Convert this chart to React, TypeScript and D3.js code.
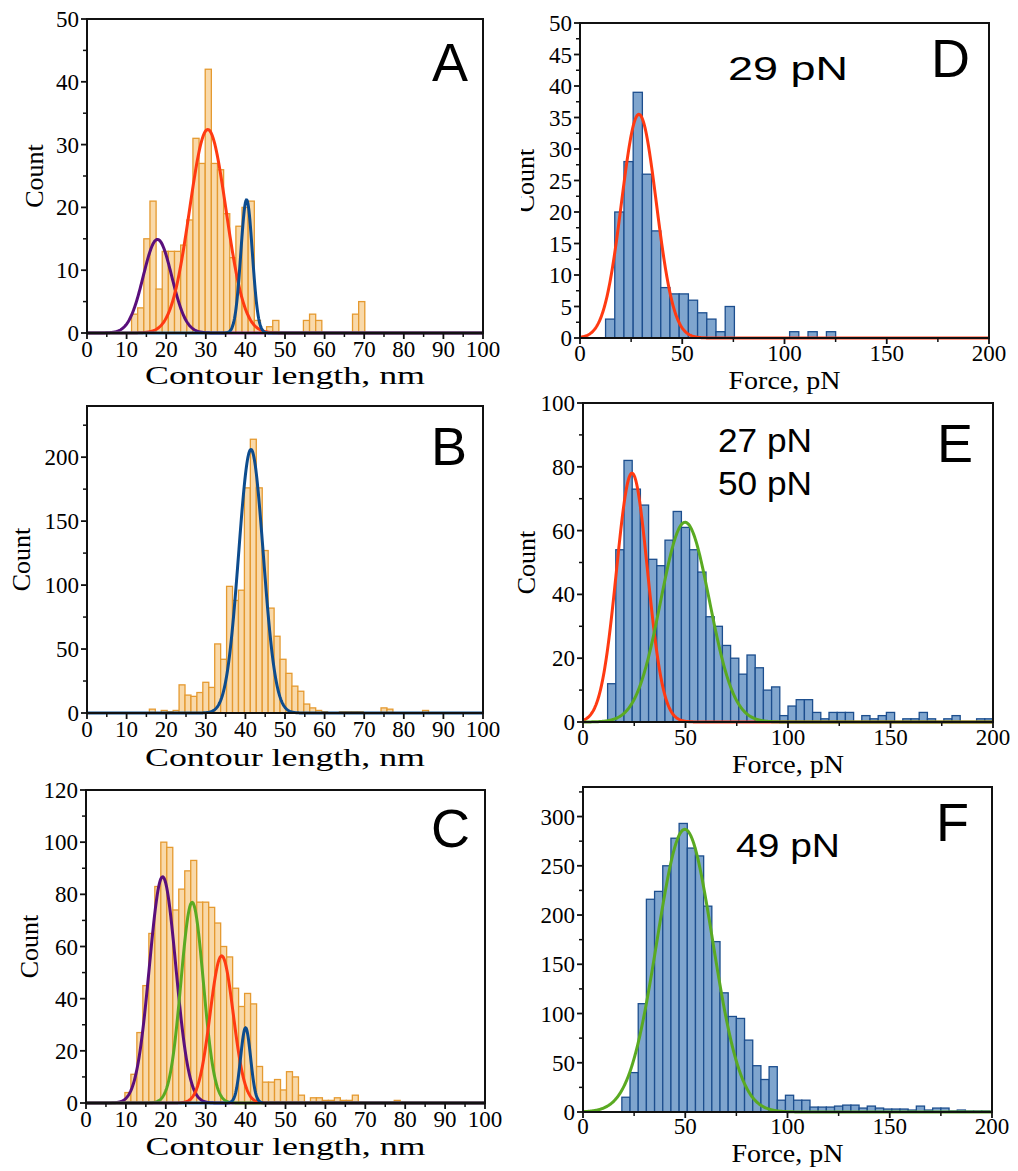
import React from "react";
import * as d3 from "d3";

// ---------------- DATA ----------------
// Panel A (contour length, nm)
const aBinStart = 11.25;
const aBinWidth = 1.55;
const aCounts = [3, 4, 15, 21, 7, 13, 13, 13, 14, 18, 31, 27, 42, 27, 26, 19, 12, 17, 20, 21, 2, 0, 1, 2, 0, 0, 0, 0, 2, 3, 2, 0, 0, 0, 0, 0, 3, 5];
const aFits = [
  { amp: 14.9, mu: 17.8, sigma: 3.6 },
  { amp: 32.4, mu: 30.5, sigma: 4.6 },
  { amp: 21.2, mu: 40.3, sigma: 1.45 },
];

// Panel B (contour length, nm)
const bBinStart = 15.75;
const bBinWidth = 1.5;
const bCounts = [3, 0, 2, 1, 2, 22, 14, 13, 16, 24, 20, 54, 42, 99, 88, 96, 176, 214, 176, 127, 82, 60, 42, 31, 21, 17, 7, 4, 2, 1, 0, 0, 1, 1, 1, 1, 0, 0, 0, 4, 3, 0, 0, 0, 0, 0, 2];
const bFits = [{ amp: 206, mu: 41.4, sigma: 3.1 }];

// Panel C (contour length, nm)
const cBinStart = 9.75;
const cBinWidth = 1.5;
const cCounts = [4, 11, 27, 45, 65, 83, 100, 98, 74, 82, 89, 93, 77, 77, 75, 69, 60, 56, 44, 37, 42, 38, 14, 8, 8, 9, 5, 12, 10, 3, 0, 2, 2, 1, 1, 2, 1, 1, 3, 0, 0, 0, 0, 0, 0, 1];
const cFits = [
  { amp: 86.7, mu: 19.2, sigma: 3.3 },
  { amp: 76.9, mu: 26.6, sigma: 2.8 },
  { amp: 56.4, mu: 34.0, sigma: 2.9 },
  { amp: 28.8, mu: 40.0, sigma: 1.25 },
];

// Panel D (force, pN)
const dBinStart = 12.5;
const dBinWidth = 4.5;
const dCounts = [3, 20, 28, 39, 26, 17, 8, 7, 7, 6, 4, 3, 1, 5, 0, 0, 0, 0, 0, 0, 1, 0, 1, 0, 1];
const dFits = [{ amp: 35.5, mu: 28.8, sigma: 8.5 }];

// Panel E (force, pN)
const eBinStart = 12;
const eBinWidth = 4;
const eCounts = [12, 54, 82, 73, 68, 51, 49, 57, 66, 61, 54, 47, 33, 30, 24, 20, 15, 21, 17, 10, 11, 2, 5, 7, 7, 3, 1, 3, 3, 3, 0, 2, 1, 2, 3, 0, 1, 1, 3, 1, 0, 1, 2, 0, 0, 1, 1];
const eFits = [
  { amp: 78, mu: 23.9, sigma: 7.6 },
  { amp: 62.6, mu: 49.8, sigma: 11.9 },
];

// Panel F (force, pN)
const fBinStart = 19;
const fBinWidth = 4;
const fCounts = [15, 40, 110, 216, 224, 250, 278, 293, 268, 260, 209, 173, 121, 97, 95, 73, 47, 33, 46, 12, 17, 12, 12, 5, 5, 5, 6, 7, 7, 4, 6, 4, 3, 3, 3, 2, 6, 2, 4, 4, 1, 2, 1, 1, 1];
const fFits = [{ amp: 287, mu: 49.8, sigma: 13.6 }];

// Tick definitions
const nmTicksMajor = [0, 10, 20, 30, 40, 50, 60, 70, 80, 90, 100];
const nmTicksMinor = [5, 15, 25, 35, 45, 55, 65, 75, 85, 95];
const pnTicksMajor = [0, 50, 100, 150, 200];
const pnTicksMinor = [25, 75, 125, 175];

// ---------------- STYLE ----------------
const ORANGE_FILL = "#F9D9A9";
const ORANGE_STROKE = "#E59A30";
const BLUE_FILL = "#7FA5CE";
const BLUE_STROKE = "#1C4E8E";
const PURPLE = "#5A0F7C";
const RED = "#FF3A12";
const DBLUE = "#0D4C8E";
const GREEN = "#5AAA22";
const SERIF = "'Liberation Serif', 'Times New Roman', serif";
const SANS = "'Liberation Sans', Arial, sans-serif";

type Fit = { amp: number; mu: number; sigma: number };

type PanelProps = {
  left: number; right: number; top: number; bottom: number;
  xMax: number; yMax: number;
  xMajor: number[]; xMinor: number[];
  yMajor: number[]; yMinor: number[];
  binStart: number; binWidth: number; counts: number[];
  fill: string; stroke: string;
  fits: Fit[]; fitColors: string[];
  xTitle: string; xTitleLen: number; xTitleSize: number; xLabelDy: number; xTitleDy: number;
  yTitleX?: number;
  letter: string; letterX: number; letterY: number;
  notes?: { text: string; x: number; y: number; len: number }[];
};

function gauss(f: Fit, v: number) {
  return f.amp * Math.exp(-((v - f.mu) ** 2) / (2 * f.sigma * f.sigma));
}

function Panel(p: PanelProps) {
  const x = d3.scaleLinear().domain([0, p.xMax]).range([p.left, p.right]);
  const y = d3.scaleLinear().domain([0, p.yMax]).range([p.bottom, p.top]);
  const samples = d3.range(0, p.xMax + 0.0001, p.xMax / 800);
  return (
    <g>
      {p.counts.map((c, i) =>
        c > 0 ? (
          <rect
            key={i}
            x={x(p.binStart + i * p.binWidth)}
            y={y(c)}
            width={x(p.binStart + (i + 1) * p.binWidth) - x(p.binStart + i * p.binWidth)}
            height={y(0) - y(c)}
            fill={p.fill}
            stroke={p.stroke}
            strokeWidth={1.3}
          />
        ) : null
      )}
      {p.fits.map((f, i) => {
        const line = d3.line<number>().x((d) => x(d)).y((d) => y(gauss(f, d)));
        return <path key={i} d={line(samples) as string} fill="none" stroke={p.fitColors[i]} strokeWidth={3} />;
      })}
      <rect x={p.left} y={p.top} width={p.right - p.left} height={p.bottom - p.top} fill="none" stroke="#111" strokeWidth={2} />
      {p.yMajor.map((v) => (
        <g key={"ym" + v}>
          <line x1={p.left - 6} x2={p.left} y1={y(v)} y2={y(v)} stroke="#111" strokeWidth={1.8} />
          <text x={p.left - 8} y={y(v) + 8} textAnchor="end" fontFamily={SERIF} fontSize={23}>{v}</text>
        </g>
      ))}
      {p.yMinor.map((v) => (
        <line key={"yn" + v} x1={p.left - 4} x2={p.left} y1={y(v)} y2={y(v)} stroke="#111" strokeWidth={1.5} />
      ))}
      {p.xMajor.map((v) => (
        <g key={"xm" + v}>
          <line x1={x(v)} x2={x(v)} y1={p.bottom} y2={p.bottom + 6} stroke="#111" strokeWidth={1.8} />
          <text x={x(v)} y={p.bottom + p.xLabelDy} textAnchor="middle" fontFamily={SERIF} fontSize={23}>{v}</text>
        </g>
      ))}
      {p.xMinor.map((v) => (
        <line key={"xn" + v} x1={x(v)} x2={x(v)} y1={p.bottom} y2={p.bottom + 4} stroke="#111" strokeWidth={1.5} />
      ))}
      <text
        x={(p.left + p.right) / 2}
        y={p.bottom + p.xTitleDy}
        textAnchor="middle"
        fontFamily={SERIF}
        fontSize={p.xTitleSize}
        textLength={p.xTitleLen}
        lengthAdjust="spacingAndGlyphs"
      >
        {p.xTitle}
      </text>
      {p.yTitleX !== undefined && (
        <text
          transform={`translate(${p.yTitleX},${(p.top + p.bottom) / 2}) rotate(-90)`}
          textAnchor="middle"
          fontFamily={SERIF}
          fontSize={26}
        >
          Count
        </text>
      )}
      <text x={p.letterX} y={p.letterY} fontFamily={SANS} fontSize={54} textAnchor="start">{p.letter}</text>
      {(p.notes || []).map((n, i) => (
        <text key={i} x={n.x} y={n.y} fontFamily={SANS} fontSize={33} textLength={n.len} lengthAdjust="spacingAndGlyphs">{n.text}</text>
      ))}
    </g>
  );
}

export default function App() {
  return (
    <svg width={1018} height={1171} style={{ display: "block", position: "absolute", left: 0, top: 0, background: "#fff" }}>
      <rect width={1018} height={1171} fill="#fff" />
      <Panel
        left={87} right={483} top={19} bottom={333} xMax={100} yMax={50}
        xMajor={nmTicksMajor} xMinor={nmTicksMinor}
        yMajor={[0, 10, 20, 30, 40, 50]} yMinor={[5, 15, 25, 35, 45]}
        binStart={aBinStart} binWidth={aBinWidth} counts={aCounts}
        fill={ORANGE_FILL} stroke={ORANGE_STROKE}
        fits={aFits} fitColors={[PURPLE, RED, DBLUE]}
        xTitle="Contour length, nm" xTitleLen={280} xTitleSize={26} xLabelDy={24} xTitleDy={51}
        yTitleX={43}
        letter="A" letterX={432} letterY={81}
      />
      <Panel
        left={87} right={483} top={406} bottom={713} xMax={100} yMax={240}
        xMajor={nmTicksMajor} xMinor={nmTicksMinor}
        yMajor={[0, 50, 100, 150, 200]} yMinor={[25, 75, 125, 175, 225]}
        binStart={bBinStart} binWidth={bBinWidth} counts={bCounts}
        fill={ORANGE_FILL} stroke={ORANGE_STROKE}
        fits={bFits} fitColors={[DBLUE]}
        xTitle="Contour length, nm" xTitleLen={280} xTitleSize={26} xLabelDy={24} xTitleDy={53}
        yTitleX={30}
        letter="B" letterX={431} letterY={465}
      />
      <Panel
        left={86} right={485} top={790} bottom={1103} xMax={100} yMax={120}
        xMajor={nmTicksMajor} xMinor={nmTicksMinor}
        yMajor={[0, 20, 40, 60, 80, 100, 120]} yMinor={[10, 30, 50, 70, 90, 110]}
        binStart={cBinStart} binWidth={cBinWidth} counts={cCounts}
        fill={ORANGE_FILL} stroke={ORANGE_STROKE}
        fits={cFits} fitColors={[PURPLE, GREEN, RED, DBLUE]}
        xTitle="Contour length, nm" xTitleLen={280} xTitleSize={26} xLabelDy={24} xTitleDy={52}
        yTitleX={38}
        letter="C" letterX={431} letterY={847}
      />
      <Panel
        left={580} right={989} top={23} bottom={338} xMax={200} yMax={50}
        xMajor={pnTicksMajor} xMinor={pnTicksMinor}
        yMajor={[0, 5, 10, 15, 20, 25, 30, 35, 40, 45, 50]} yMinor={[2.5, 7.5, 12.5, 17.5, 22.5, 27.5, 32.5, 37.5, 42.5, 47.5]}
        binStart={dBinStart} binWidth={dBinWidth} counts={dCounts}
        fill={BLUE_FILL} stroke={BLUE_STROKE}
        fits={dFits} fitColors={[RED]}
        xTitle="Force, pN" xTitleLen={112} xTitleSize={25} xLabelDy={23} xTitleDy={51}
        yTitleX={534}
        letter="D" letterX={931} letterY={77}
        notes={[{ text: "29 pN", x: 728, y: 80, len: 120 }]}
      />
      <rect x={495} y={120} width={26} height={90} fill="#fff" />
      <Panel
        left={583} right={993} top={403} bottom={722} xMax={200} yMax={100}
        xMajor={pnTicksMajor} xMinor={pnTicksMinor}
        yMajor={[0, 20, 40, 60, 80, 100]} yMinor={[10, 30, 50, 70, 90]}
        binStart={eBinStart} binWidth={eBinWidth} counts={eCounts}
        fill={BLUE_FILL} stroke={BLUE_STROKE}
        fits={eFits} fitColors={[RED, GREEN]}
        xTitle="Force, pN" xTitleLen={112} xTitleSize={25} xLabelDy={23} xTitleDy={51}
        yTitleX={535}
        letter="E" letterX={937} letterY={462}
        notes={[
          { text: "27 pN", x: 718, y: 452, len: 94 },
          { text: "50 pN", x: 718, y: 495, len: 94 },
        ]}
      />
      <Panel
        left={583} right={992} top={787} bottom={1112} xMax={200} yMax={330}
        xMajor={pnTicksMajor} xMinor={pnTicksMinor}
        yMajor={[0, 50, 100, 150, 200, 250, 300]} yMinor={[25, 75, 125, 175, 225, 275, 325]}
        binStart={fBinStart} binWidth={fBinWidth} counts={fCounts}
        fill={BLUE_FILL} stroke={BLUE_STROKE}
        fits={fFits} fitColors={[GREEN]}
        xTitle="Force, pN" xTitleLen={112} xTitleSize={25} xLabelDy={22} xTitleDy={50}
        letter="F" letterX={936} letterY={841}
        notes={[{ text: "49 pN", x: 736, y: 857, len: 104 }]}
      />
    </svg>
  );
}
